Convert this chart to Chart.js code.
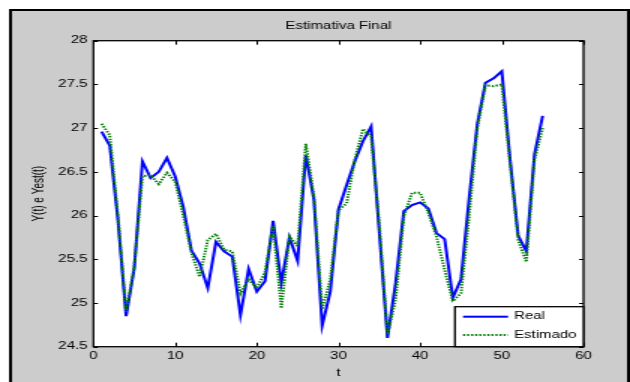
<!DOCTYPE html>
<html>
<head>
<meta charset="utf-8">
<script src="https://cdn.jsdelivr.net/npm/chart.js@4/dist/chart.umd.min.js"></script>
<style>
html,body{margin:0;padding:0;background:#ffffff;overflow:hidden;}
#wrap{position:absolute;left:0;top:0;width:420px;height:382px;transform:scaleX(1.5);transform-origin:0 0;}
canvas{display:block;}
</style>
</head>
<body>
<div id="wrap"><canvas id="c" width="420" height="382"></canvas></div>
<script>
const tValues = [1,2,3,4,5,6,7,8,9,10,11,12,13,14,15,16,17,18,19,20,21,22,23,24,25,26,27,28,29,30,31,32,33,34,35,36,37,38,39,40,41,42,43,44,45,46,47,48,49,50,51,52,53,54,55];
const realValues = [26.96,26.80,25.95,24.85,25.40,26.62,26.43,26.50,26.66,26.45,26.10,25.60,25.45,25.17,25.70,25.59,25.53,24.86,25.39,25.13,25.25,25.94,25.23,25.75,25.48,26.69,26.18,24.74,25.13,26.07,26.35,26.62,26.85,27.02,25.81,24.60,25.23,26.05,26.12,26.15,26.08,25.80,25.73,25.06,25.27,26.20,27.05,27.52,27.57,27.65,26.65,25.77,25.59,26.70,27.14];
const estValues = [27.05,26.92,26.00,24.90,25.42,26.45,26.46,26.36,26.49,26.39,26.00,25.57,25.30,25.72,25.79,25.61,25.59,25.11,25.27,25.17,25.35,25.88,24.94,25.76,25.65,26.82,26.22,24.93,25.27,26.06,26.14,26.64,26.99,26.90,25.90,24.64,25.04,25.99,26.26,26.26,26.03,25.76,25.38,25.02,25.11,26.00,27.00,27.49,27.48,27.50,26.60,25.72,25.47,26.64,27.00];
const xTicks = [0,10,20,30,40,50,60];
const yTicks = [24.5,25,25.5,26,26.5,27,27.5,28];
const seriesNames = ['Real','Estimado'];
const chartTitle = 'Estimativa Final';
const xTitle = 't';
const yTitle = 'Y(t) e Yest(t)';

const FONT = '"Liberation Sans", Arial, sans-serif';
const realColor = '#0000ff';
const estColor = '#008000';

const framePlugin = {
  id: 'frame',
  beforeDraw(chart) {
    const ctx = chart.ctx;
    ctx.save();
    ctx.fillStyle = '#ffffff';
    ctx.fillRect(0, 0, chart.width, chart.height);
    ctx.fillStyle = '#cccccc';
    ctx.fillRect(7, 10, 412, 372);
    ctx.strokeStyle = '#000000';
    ctx.lineWidth = 2;
    ctx.strokeRect(7, 10, 412, 374);
    const a = chart.chartArea;
    ctx.fillStyle = '#ffffff';
    ctx.fillRect(a.left, a.top, a.right - a.left, a.bottom - a.top);
    ctx.restore();
  },
  afterDraw(chart) {
    const ctx = chart.ctx;
    const a = chart.chartArea;
    const xs = chart.scales.x, ys = chart.scales.y;
    ctx.save();
    ctx.strokeStyle = '#000000';
    ctx.lineWidth = 1;
    ctx.beginPath();
    xTicks.forEach(v => {
      const px = Math.round(xs.getPixelForValue(v)) + 0.5;
      ctx.moveTo(px, a.top); ctx.lineTo(px, a.top + 4);
      ctx.moveTo(px, a.bottom); ctx.lineTo(px, a.bottom - 4);
    });
    yTicks.forEach(v => {
      const py = Math.round(ys.getPixelForValue(v)) + 0.5;
      ctx.moveTo(a.left, py); ctx.lineTo(a.left + 3, py);
      ctx.moveTo(a.right, py); ctx.lineTo(a.right - 3, py);
    });
    ctx.stroke();
    ctx.lineWidth = 1.3;
    ctx.strokeRect(a.left, a.top, a.right - a.left, a.bottom - a.top);
    // title
    ctx.fillStyle = '#000000';
    ctx.font = '10px ' + FONT;
    ctx.textAlign = 'center';
    ctx.textBaseline = 'middle';
    ctx.fillText(chartTitle, (a.left + a.right) / 2, 26);
    // legend
    const lx = 303.3, ly = 306.7, lw = a.right - 303.3, lh = a.bottom - 306.7;
    ctx.fillStyle = '#ffffff';
    ctx.fillRect(lx, ly, lw, lh);
    ctx.lineWidth = 1.3;
    ctx.strokeStyle = '#000000';
    ctx.strokeRect(lx, ly, lw, lh);
    ctx.lineWidth = 2;
    ctx.strokeStyle = realColor;
    ctx.setLineDash([]);
    ctx.beginPath(); ctx.moveTo(308.7, 316.7); ctx.lineTo(338.7, 316.7); ctx.stroke();
    ctx.strokeStyle = estColor;
    ctx.setLineDash([1.4, 1.3]);
    ctx.beginPath(); ctx.moveTo(308.7, 335); ctx.lineTo(338.7, 335); ctx.stroke();
    ctx.setLineDash([]);
    ctx.fillStyle = '#000000';
    ctx.textAlign = 'left';
    ctx.fillText(seriesNames[0], 342.7, 316.7);
    ctx.fillText(seriesNames[1], 342.7, 335);
    ctx.restore();
  }
};

new Chart(document.getElementById('c'), {
  type: 'line',
  data: {
    labels: tValues,
    datasets: [
      { label: seriesNames[0], data: tValues.map((t, i) => ({x: t, y: realValues[i]})), borderColor: realColor, borderWidth: 2, pointRadius: 0, tension: 0, fill: false, order: 1 },
      { label: seriesNames[1], data: tValues.map((t, i) => ({x: t, y: estValues[i]})), borderColor: estColor, borderWidth: 2, borderDash: [1.4, 1.3], pointRadius: 0, tension: 0, fill: false, order: 0 }
    ]
  },
  options: {
    responsive: false,
    animation: false,
    events: [],
    layout: { padding: { left: 0, right: 31, top: 40.7, bottom: 0 } },
    plugins: { legend: { display: false }, title: { display: false }, tooltip: { enabled: false } },
    scales: {
      x: {
        type: 'linear', min: 0, max: 60,
        afterBuildTicks: s => { s.ticks = xTicks.map(v => ({value: v})); },
        afterFit: s => { s.height = 35.3; },
        grid: { display: false, drawTicks: false },
        border: { display: false },
        ticks: { color: '#000', font: { family: FONT, size: 10 }, padding: 4, maxRotation: 0, autoSkip: false, callback: v => String(v) },
        title: { display: true, text: xTitle, color: '#000', font: { family: FONT, size: 10 }, padding: { top: 0, bottom: 3 } }
      },
      y: {
        type: 'linear', min: 24.5, max: 28,
        afterBuildTicks: s => { s.ticks = yTicks.map(v => ({value: v})); },
        afterFit: s => { s.width = 62.3; },
        grid: { display: false, drawTicks: false },
        border: { display: false },
        ticks: { color: '#000', font: { family: FONT, size: 10 }, padding: 4, autoSkip: false, callback: v => String(v) },
        title: { display: true, text: yTitle, color: '#000', font: { family: FONT, size: 10 }, padding: { top: 20, bottom: 0 } }
      }
    }
  },
  plugins: [framePlugin]
});
</script>
</body>
</html>
